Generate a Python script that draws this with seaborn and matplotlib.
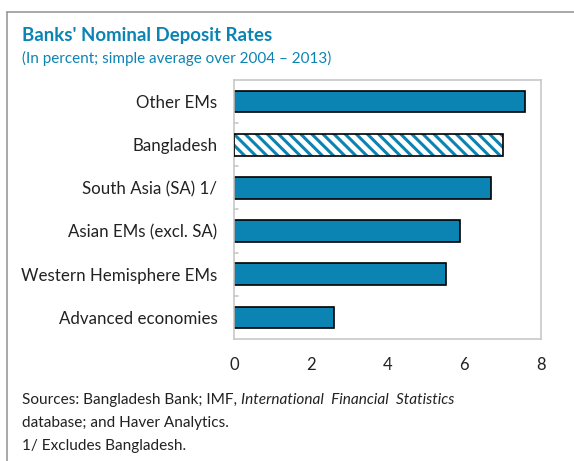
import matplotlib
matplotlib.use("Agg")
import matplotlib.pyplot as plt
import seaborn as sns
import pandas as pd
from matplotlib.lines import Line2D
from matplotlib.patches import Rectangle

# data
regioes = ["Other EMs", "Bangladesh", "South Asia (SA) 1/", "Asian EMs (excl. SA)",
           "Western Hemisphere EMs", "Advanced economies"]
taxas = [7.58, 7.01, 6.71, 5.89, 5.52, 2.60]
xticks = [0, 2, 4, 6, 8]

azul = "#0b84b3"
cinza = "#c8c8c8"

df = pd.DataFrame({"Regiao": regioes, "Taxa": taxas})

sns.set_style("white")
plt.rcParams["font.family"] = ["Lato", "DejaVu Sans"]
plt.rcParams["hatch.linewidth"] = 2.2

fig = plt.figure(figsize=(5.74, 4.61), dpi=100)
ax = fig.add_axes([234 / 574, 1 - 339 / 461, (541 - 234) / 574, (339 - 80) / 461])

sns.barplot(data=df, x="Taxa", y="Regiao", color=azul, saturation=1, width=0.5,
            edgecolor="black", linewidth=1.2, ax=ax)

# barra de Bangladesh hachurada
barra = ax.patches[1]
barra.set_facecolor("white")
barra.set_edgecolor(azul)
barra.set_hatch("\\\\\\")
barra.set_linewidth(0)
ax.add_patch(Rectangle(barra.get_xy(), barra.get_width(), barra.get_height(),
                       facecolor="none", edgecolor="black", linewidth=1.2, zorder=3))

ax.set_xlim(0, 8)
ax.set_ylim(5.5, -0.5)
ax.set_xticks(xticks)
ax.set_xticklabels([str(t) for t in xticks], fontsize=12, color="#222222")
ax.tick_params(axis="y", labelsize=12.2, labelcolor="#222222", length=0, pad=12)
ax.tick_params(axis="x", direction="in", length=4, color=cinza, pad=13)
ax.set_xlabel("")
ax.set_ylabel("")
for s in ax.spines.values():
    s.set_color(cinza)
    s.set_linewidth(1.2)

# tracinhos entre as categorias
for y in [0.5, 1.5, 2.5, 3.5, 4.5]:
    ax.plot([0, 0.1], [y, y], color=cinza, lw=1.2, clip_on=False, zorder=1)

# titulos
fig.text(22 / 574, 1 - 35 / 461, "Banks' Nominal Deposit Rates", fontsize=13.4,
         fontweight="bold", color=azul, va="center", ha="left")
fig.text(22 / 574, 1 - 58 / 461, "(In percent; simple average over 2004 \u2013 2013)",
         fontsize=11, color=azul, va="center", ha="left")

# notas de rodape
t = fig.text(22 / 574, 1 - 400 / 461, "Sources: Bangladesh Bank; IMF, ", fontsize=11.1,
             color="#222222", va="center", ha="left")
fig.canvas.draw()
bb = t.get_window_extent()
fig.text(bb.x1 / 574, 1 - 400 / 461, "International  Financial  Statistics",
         fontsize=11.1, style="italic", color="#222222", va="center", ha="left")
fig.text(22 / 574, 1 - 423 / 461, "database; and Haver Analytics.", fontsize=11.1,
         color="#222222", va="center", ha="left")
fig.text(22 / 574, 1 - 446 / 461, "1/ Excludes Bangladesh.", fontsize=11.1,
         color="#222222", va="center", ha="left")

# moldura (esquerda e topo)
fig.add_artist(Line2D([7 / 574, 7 / 574], [0, 1 - 12 / 461], color="#999999", lw=1.2))
fig.add_artist(Line2D([7 / 574, 1], [1 - 12 / 461, 1 - 12 / 461], color="#999999", lw=1.2))

fig.savefig("out.png", dpi=100)
